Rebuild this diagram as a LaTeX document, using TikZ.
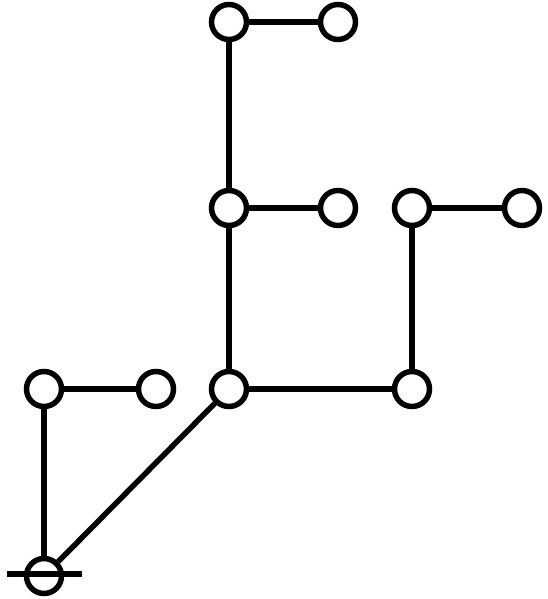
\documentclass[tikz,border=0pt]{standalone}
\begin{document}
\begin{tikzpicture}[x=1pt,y=-1pt,
  vert/.style={circle,draw,line width=5.5pt,minimum size=35pt,inner sep=0pt,fill=white},
  edge/.style={line width=5.5pt}]
\useasboundingbox (0,0) rectangle (548,599);
\node[vert] (A) at (229,22) {};
\node[vert] (B) at (338,22) {};
\node[vert] (C) at (229,208) {};
\node[vert] (D) at (338,208) {};
\node[vert] (E) at (412,208) {};
\node[vert] (F) at (522,208) {};
\node[vert] (G) at (44,389) {};
\node[vert] (H) at (156,389) {};
\node[vert] (I) at (229,389) {};
\node[vert] (J) at (412,389) {};
\node[vert] (R) at (44,576) {};
\coordinate (bl) at (7,574);
\coordinate (br) at (82,574);
\draw[edge] (A) -- (B);
\draw[edge] (A) -- (C);
\draw[edge] (C) -- (D);
\draw[edge] (C) -- (I);
\draw[edge] (E) -- (F);
\draw[edge] (E) -- (J);
\draw[edge] (I) -- (J);
\draw[edge] (G) -- (H);
\draw[edge] (G) -- (R);
\draw[edge] (I) -- (R);
\draw[edge] (bl) -- (br);
\end{tikzpicture}
\end{document}
